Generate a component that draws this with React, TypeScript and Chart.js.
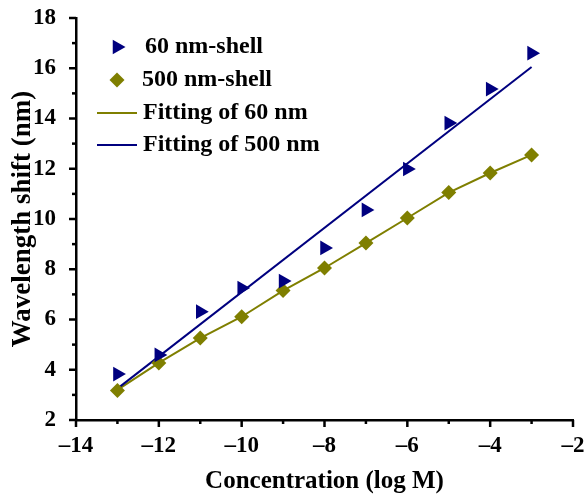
import React, { useEffect, useRef } from "react";
import { Chart, registerables } from "chart.js";

Chart.register(...registerables);

const concentrations = [-13, -12, -11, -10, -9, -8, -7, -6, -5, -4, -3];
const shell60 = [3.83, 4.59, 6.31, 7.25, 7.53, 8.85, 10.36, 11.99, 13.82, 15.17, 16.6];
const shell500 = [3.17, 4.27, 5.26, 6.11, 7.15, 8.05, 9.04, 10.04, 11.05, 11.83, 12.55];
const fit60X = [-13, -12, -11, -10, -9, -8, -7, -6, -5, -4, -3];
const fit60Y = [3.2, 4.27, 5.26, 6.11, 7.15, 8.05, 9.04, 10.04, 11.05, 11.83, 12.55];
const fit500X = [-13, -3];
const fit500Y = [3.25, 16.05];
const legendLabels = ["60 nm-shell", "500 nm-shell", "Fitting of 60 nm", "Fitting of 500 nm"];

const NAVY = "#00007f";
const OLIVE = "#7f7f00";
const FONT = "'Liberation Serif', 'Times New Roman', serif";

const toXY = (xs: number[], ys: number[]) => xs.map((x, i) => ({ x, y: ys[i] }));

const axisPlugin = {
  id: "axisTicks",
  afterDraw(chart: any) {
    const ctx = chart.ctx;
    const xs = chart.scales.x;
    const ys = chart.scales.y;
    const area = chart.chartArea;
    ctx.save();
    ctx.strokeStyle = "#000";
    ctx.lineWidth = 2.5;
    for (let v = -14; v <= -2; v += 1) {
      const px = xs.getPixelForValue(v);
      const len = v % 2 === 0 ? 7 : 4;
      ctx.beginPath();
      ctx.moveTo(px, area.bottom);
      ctx.lineTo(px, area.bottom + len);
      ctx.stroke();
    }
    for (let v = 2; v <= 18; v += 1) {
      const py = ys.getPixelForValue(v);
      const len = v % 2 === 0 ? 7 : 4;
      ctx.beginPath();
      ctx.moveTo(area.left, py);
      ctx.lineTo(area.left - len, py);
      ctx.stroke();
    }
    ctx.restore();

    // legend
    ctx.save();
    ctx.font = `bold 24px ${FONT}`;
    ctx.textBaseline = "middle";
    const tx = 117, ty = 47, r = 8.5;
    ctx.fillStyle = NAVY;
    ctx.beginPath();
    ctx.moveTo(tx + r, ty);
    ctx.lineTo(tx - r / 2, ty - r * 0.866);
    ctx.lineTo(tx - r / 2, ty + r * 0.866);
    ctx.closePath();
    ctx.fill();
    const dx = 117, dy = 80, d = 7.5;
    ctx.fillStyle = OLIVE;
    ctx.beginPath();
    ctx.moveTo(dx, dy - d);
    ctx.lineTo(dx + d, dy);
    ctx.lineTo(dx, dy + d);
    ctx.lineTo(dx - d, dy);
    ctx.closePath();
    ctx.fill();
    ctx.lineWidth = 2;
    ctx.strokeStyle = OLIVE;
    ctx.beginPath();
    ctx.moveTo(97, 113);
    ctx.lineTo(137, 113);
    ctx.stroke();
    ctx.strokeStyle = NAVY;
    ctx.beginPath();
    ctx.moveTo(97, 145);
    ctx.lineTo(137, 145);
    ctx.stroke();
    ctx.fillStyle = "#000";
    ctx.fillText(legendLabels[0], 145, 47);
    ctx.fillText(legendLabels[1], 142, 80);
    ctx.fillText(legendLabels[2], 143, 113);
    ctx.fillText(legendLabels[3], 143, 145);
    ctx.restore();
  },
};

const fmt = (v: number) => (v < 0 ? "\u2013" + Math.abs(v) : String(v));

export default function App() {
  const ref = useRef<HTMLCanvasElement>(null);
  useEffect(() => {
    const chart = new Chart(ref.current!, {
      type: "scatter",
      data: {
        datasets: [
          {
            label: "Fitting of 60 nm",
            data: toXY(fit60X, fit60Y),
            showLine: true,
            borderColor: OLIVE,
            borderWidth: 2,
            pointRadius: 0,
            order: 3,
          },
          {
            label: "Fitting of 500 nm",
            data: toXY(fit500X, fit500Y),
            showLine: true,
            borderColor: NAVY,
            borderWidth: 2,
            pointRadius: 0,
            order: 2,
          },
          {
            label: legendLabels[1],
            data: toXY(concentrations, shell500),
            pointStyle: "rectRot",
            pointRadius: 7.5,
            backgroundColor: OLIVE,
            borderColor: OLIVE,
            borderWidth: 0,
            order: 1,
          },
          {
            label: legendLabels[0],
            data: toXY(concentrations, shell60),
            pointStyle: "triangle",
            rotation: 90,
            pointRadius: 8.5,
            backgroundColor: NAVY,
            borderColor: NAVY,
            borderWidth: 0,
            order: 0,
          },
        ],
      },
      options: {
        animation: false,
        responsive: false,
        layout: { padding: { top: 18, right: 13, left: 0, bottom: 0 } },
        plugins: { legend: { display: false }, tooltip: { enabled: false } },
        scales: {
          x: {
            type: "linear",
            min: -14,
            max: -2,
            grid: { display: false },
            border: { display: true, color: "#000", width: 2.5 },
            ticks: {
              stepSize: 2,
              color: "#000",
              padding: 4,
              font: { family: FONT, size: 23, weight: "bold" },
              callback: (v: any) => fmt(Number(v)),
            },
            title: {
              display: true,
              text: "Concentration (log M)",
              color: "#000",
              font: { family: FONT, size: 25, weight: "bold" },
              padding: { top: 0, bottom: 0 },
            },
            afterFit: (s: any) => {
              s.height = 77;
              s.paddingLeft = 0;
              s.paddingRight = 0;
            },
          },
          y: {
            type: "linear",
            min: 2,
            max: 18,
            grid: { display: false },
            border: { display: true, color: "#000", width: 2.5 },
            ticks: {
              stepSize: 2,
              color: "#000",
              padding: 12,
              font: { family: FONT, size: 23, weight: "bold" },
              callback: (v: any) => fmt(Number(v)),
            },
            title: {
              display: true,
              text: "Wavelength shift (nm)",
              color: "#000",
              font: { family: FONT, size: 27, weight: "bold" },
              padding: { top: 7, bottom: 0 },
            },
            afterFit: (s: any) => {
              s.width = 76;
              s.paddingTop = 0;
              s.paddingBottom = 0;
            },
          },
        },
      } as any,
      plugins: [axisPlugin],
    });
    return () => chart.destroy();
  }, []);
  return (
    <div style={{ position: "fixed", left: 0, top: 0, width: 586, height: 497, background: "#fff" }}>
      <canvas ref={ref} width={586} height={497} style={{ width: 586, height: 497 }} />
    </div>
  );
}
